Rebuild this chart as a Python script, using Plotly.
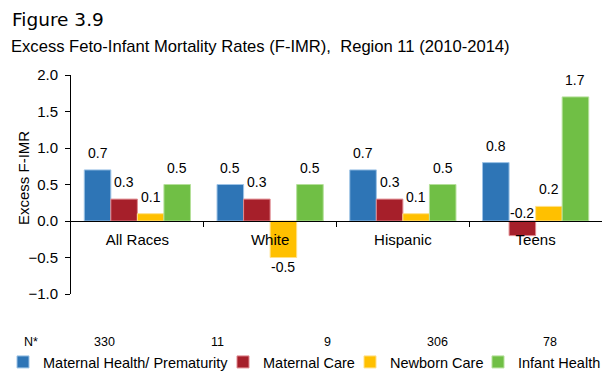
import plotly.graph_objects as go

# ---- data -------------------------------------------------------------
groups = ["All Races", "White", "Hispanic", "Teens"]
series_names = ["Maternal Health/ Prematurity", "Maternal Care", "Newborn Care", "Infant Health"]
maternal_health = [0.7, 0.5, 0.7, 0.8]
maternal_care = [0.3, 0.3, 0.3, -0.2]
newborn_care = [0.1, -0.5, 0.1, 0.2]
infant_health = [0.5, 0.5, 0.5, 1.7]
n_labels = ["N*", "330", "11", "9", "306", "78"]

# ---- styling ----------------------------------------------------------
fill_colors = ["#2E75B6", "#A61F2A", "#FFC000", "#70BF45"]
edge_colors = ["#9DC3E6", "#E08A90", "#FFE08A", "#B5E09A"]
FONT = "Liberation Sans, Arial, sans-serif"

W, H = 602, 371
L, R, T, B = 71, 0, 75, 77
plot_w = W - L - R
plot_h = H - T - B


def px_x(px):
    return (px - L) / plot_w


def px_y(py):
    return (H - B - py) / plot_h


series_values = [maternal_health, maternal_care, newborn_care, infant_health]
x_pos = list(range(len(groups)))

fig = go.Figure()
legend_ids = ["legend", "legend2", "legend3", "legend4"]
for k, (name, vals) in enumerate(zip(series_names, series_values)):
    fig.add_trace(go.Bar(
        x=x_pos, y=vals, name=name,
        marker=dict(color=fill_colors[k], line=dict(color=edge_colors[k], width=1)),
        legend=legend_ids[k], showlegend=True,
    ))

# value labels above positive bars / below negative bars
bar_w = 0.2
nudges = {(3, 1): 8}  # Teens / Maternal Care label sits just above the zero line
for k, vals in enumerate(series_values):
    for i, v in enumerate(vals):
        xc = i + (k - 1.5) * bar_w
        if (i, k) in nudges:
            yy, shift = 0, nudges[(i, k)]
        elif v >= 0:
            yy, shift = v, 17
        else:
            yy, shift = v, -9
        fig.add_annotation(x=xc, y=yy, xref="x", yref="y", text=f"{v:.1f}",
                           showarrow=False, yshift=shift, yanchor="middle",
                           font=dict(family=FONT, size=14, color="#000"))

# titles
fig.add_annotation(x=px_x(10), y=px_y(19), xref="paper", yref="paper",
                   text="Figure 3.9", showarrow=False, xanchor="left", yanchor="middle",
                   font=dict(family="DejaVu Sans, Verdana, sans-serif", size=18.5, color="#000"))
fig.add_annotation(x=px_x(9), y=px_y(46), xref="paper", yref="paper",
                   text="Excess Feto-Infant Mortality Rates (F-IMR),  Region 11 (2010-2014)",
                   showarrow=False, xanchor="left", yanchor="middle",
                   font=dict(family=FONT, size=16.6, color="#000"))
fig.add_annotation(x=px_x(23), y=px_y(178), xref="paper", yref="paper",
                   text="Excess F-IMR", textangle=-90, showarrow=False,
                   xanchor="center", yanchor="middle",
                   font=dict(family=FONT, size=15, color="#000"))

# N* row
n_x = [31, 104, 217, 327, 437, 550]
for lbl, xp in zip(n_labels, n_x):
    fig.add_annotation(x=px_x(xp), y=px_y(342), xref="paper", yref="paper",
                       text=lbl, showarrow=False, xanchor="center", yanchor="middle",
                       font=dict(family=FONT, size=12.5, color="#000"))

fig.update_layout(
    width=W, height=H,
    margin=dict(l=L, r=R, t=T, b=B, autoexpand=False),
    paper_bgcolor="white", plot_bgcolor="white",
    barmode="group", bargap=0.2, bargroupgap=0,
    font=dict(family=FONT, size=15, color="#000"),
    xaxis=dict(
        range=[-0.5, 3.5], tickmode="array", tickvals=x_pos, ticktext=groups,
        ticks="", showline=True, linecolor="#000", linewidth=1,
        anchor="free", position=1 / 3, showgrid=False, zeroline=False,
        tickfont=dict(family=FONT, size=15), ticklabelstandoff=5,
        minor=dict(tickmode="array", tickvals=[0.5, 1.5, 2.5], ticks="outside",
                   ticklen=5, tickcolor="#000", tickwidth=1, showgrid=False),
    ),
    yaxis=dict(
        range=[-1, 2], tickmode="array", tickvals=[-1, -0.5, 0, 0.5, 1, 1.5, 2],
        tickformat=".1f", ticks="outside", ticklen=5, tickcolor="#000",
        showline=True, linecolor="#000", linewidth=1, showgrid=False, zeroline=False,
        tickfont=dict(family=FONT, size=15), ticklabelstandoff=4,
    ),
)

# one legend per series, each placed in container coordinates
legend_text_x = [43, 263, 390, 518]
for lid, tx in zip(legend_ids, legend_text_x):
    fig.update_layout({lid: dict(
        xref="container", yref="container",
        x=(tx - 40) / W, y=1 - 362 / H, xanchor="left", yanchor="middle",
        orientation="h", bgcolor="rgba(0,0,0,0)", borderwidth=0,
        font=dict(family=FONT, size=14.5, color="#000"),
        itemclick=False, itemdoubleclick=False,
    )})

fig.write_html("out.html")
